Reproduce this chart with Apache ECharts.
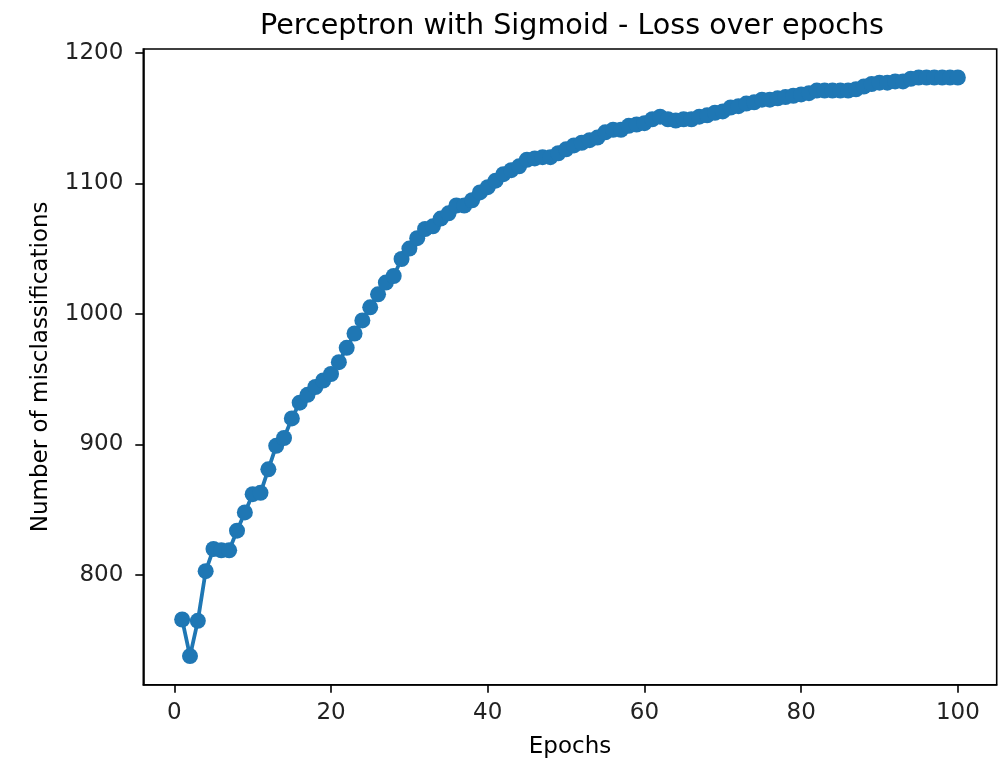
<!DOCTYPE html>
<html>
<head>
<meta charset="utf-8">
<script src="https://cdn.jsdelivr.net/npm/echarts@6/dist/echarts.min.js"></script>
<style>html,body{margin:0;padding:0;background:#fff;}#chart{width:1001px;height:759px;}</style>
</head>
<body>
<div id="chart"></div>
<script>
const epochs = [];
for (let i = 1; i <= 100; i++) epochs.push(i);
const misclassifications = [
  766, 738, 765, 803, 820, 819, 819, 834, 848, 862,
  863, 881, 899, 905, 920, 932, 938, 944, 949, 954,
  963, 974, 985, 995, 1005, 1015, 1024, 1029, 1042, 1050,
  1058, 1065, 1067, 1073, 1077, 1083, 1083, 1087, 1093, 1097,
  1102, 1107, 1110, 1113, 1118, 1119, 1120, 1120, 1123, 1126,
  1129, 1131, 1133, 1135, 1139, 1141, 1141, 1144, 1145, 1146,
  1149, 1151, 1149, 1148, 1149, 1149, 1151, 1152, 1154, 1155,
  1158, 1159, 1161, 1162, 1164, 1164, 1165, 1166, 1167, 1168,
  1169, 1171, 1171, 1171, 1171, 1171, 1172, 1174, 1176, 1177,
  1177, 1178, 1178, 1180, 1181, 1181, 1181, 1181, 1181, 1181
];
const xTicks = [0, 20, 40, 60, 80, 100];
const yTicks = [800, 900, 1000, 1100, 1200];
const titleText = 'Perceptron with Sigmoid - Loss over epochs';
const xLabel = 'Epochs';
const yLabel = 'Number of misclassifications';

const font = 'DejaVu Sans';
const chart = echarts.init(document.getElementById('chart'), null, {renderer: 'canvas'});
chart.setOption({
  animation: false,
  backgroundColor: '#fff',
  title: {
    text: titleText, left: 567, top: 7, textAlign: 'center',
    textStyle: {fontFamily: font, fontSize: 28.6, fontWeight: 'normal', color: '#000'}
  },
  grid: {
    left: 143.3, right: 4.3, top: 49, bottom: 74.3,
    outerBoundsMode: 'none', containLabel: false,
    show: true, borderColor: '#000', borderWidth: 1.6, backgroundColor: 'transparent'
  },
  xAxis: {
    type: 'value', min: -3.96, max: 104.96,
    name: xLabel, nameLocation: 'middle', nameGap: 51,
    nameTextStyle: {fontFamily: font, fontSize: 23, color: '#000'},
    axisLine: {show: true, onZero: false, lineStyle: {color: '#000', width: 1.6}},
    axisTick: {show: true, length: 8, lineStyle: {color: '#000', width: 1.6}, customValues: xTicks},
    axisLabel: {fontFamily: font, fontSize: 23, color: '#222', margin: 17, customValues: xTicks,
      formatter: v => String(v)},
    splitLine: {show: false}
  },
  yAxis: {
    type: 'value', min: 716.1, max: 1202.8,
    name: yLabel, nameLocation: 'middle', nameGap: 91,
    nameTextStyle: {fontFamily: font, fontSize: 23, color: '#000'},
    axisLine: {show: true, onZero: false, lineStyle: {color: '#000', width: 1.6}},
    axisTick: {show: true, length: 8, lineStyle: {color: '#000', width: 1.6}, customValues: yTicks},
    axisLabel: {fontFamily: font, fontSize: 23, color: '#222', margin: 20, customValues: yTicks,
      formatter: v => String(v)},
    splitLine: {show: false}
  },
  series: [{
    type: 'line',
    data: epochs.map((e, i) => [e, misclassifications[i]]),
    symbol: 'circle', symbolSize: 16, showSymbol: true,
    lineStyle: {color: '#1f77b4', width: 3.8},
    itemStyle: {color: '#1f77b4', borderWidth: 0},
    z: 3
  }]
});
</script>
</body>
</html>
